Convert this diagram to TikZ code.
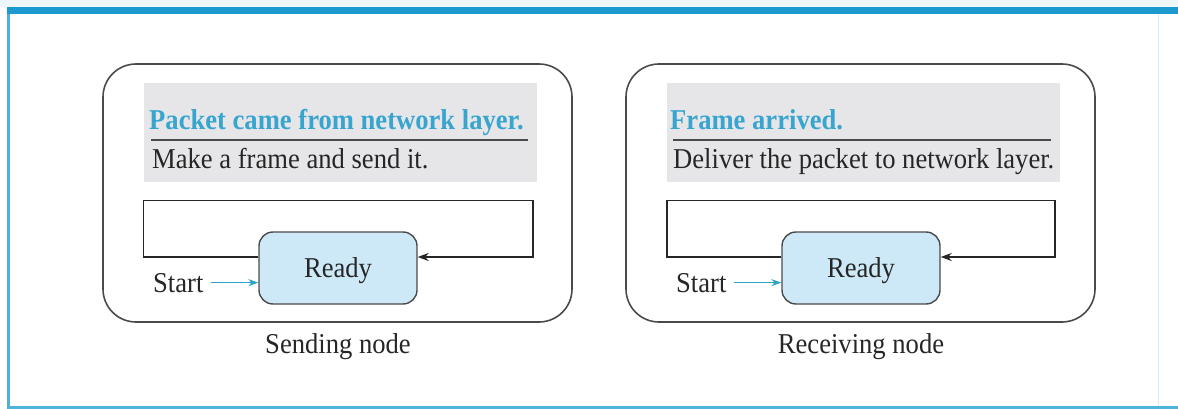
\documentclass[tikz,border=0pt]{standalone}
\usepackage{fontspec}
\setmainfont{Liberation Serif}
\usetikzlibrary{arrows.meta}

\definecolor{framebar}{HTML}{1C9AD0}
\definecolor{frameline}{HTML}{4FB3D9}
\definecolor{titlecyan}{HTML}{38A5CF}
\definecolor{panelgray}{HTML}{E6E6E9}
\definecolor{readyfill}{HTML}{CDE9F7}
\definecolor{inkdark}{HTML}{262626}
\definecolor{boxline}{HTML}{4A4A4A}
\definecolor{startcyan}{HTML}{2BA4C6}

% slightly condensed lettering: same width, a little taller
\newcommand{\tallset}[1]{\scalebox{1}[1.08]{#1}}

\tikzset{
  txt/.style={font=\fontsize{26.6}{30}\selectfont, text=inkdark, inner sep=0pt},
  titletxt/.style={txt, font=\fontsize{26.6}{30}\selectfont\bfseries, text=titlecyan, anchor=base west},
  bodytxt/.style={txt, anchor=base west},
  outerbox/.style={draw=boxline, line width=1.6pt, rounded corners=33pt,
    minimum width=469pt, minimum height=258pt, inner sep=0pt},
  panel/.style={fill=panelgray, minimum width=393.5pt, minimum height=99pt, inner sep=0pt},
  rulerline/.style={draw=boxline, line width=1.4pt},
  statebox/.style={txt, draw=boxline, line width=1.4pt, fill=readyfill, rounded corners=14pt,
    minimum width=158pt, minimum height=72pt, text depth=0pt, text height=19.6pt},
  loopline/.style={draw=inkdark, line width=1.6pt, -{Stealth[length=11pt,width=8pt]}},
  startarrow/.style={draw=startcyan, line width=1.4pt, -{Stealth[length=10pt,width=7pt]}, shorten <=7pt},
}

\begin{document}
\begin{tikzpicture}[x=1pt, y=-1pt]
  \useasboundingbox (0,0) rectangle (1178,409);

  % page frame
  \fill[framebar!8] (0,0) rectangle (1178,7);
  \draw[draw=frameline!25, line width=1pt] (1158,14) -- (1158,407);
  \draw[draw=frameline, line width=2.5pt] (1178,407.5) -- (8.5,407.5) -- (8.5,10);
  \fill[framebar] (7,7) rectangle (1178,14);

  % ---------- sending side ----------
  \node[outerbox] (s-box) at (337.5,193) {};
  \node[panel] (s-panel) at (340.25,132.5) {};
  \node[titletxt] (s-title) at (149,130) {\tallset{Packet came from network layer.}};
  \coordinate (s-rl) at (151,140);
  \coordinate (s-rr) at (528,140);
  \draw[rulerline] (s-rl) -- (s-rr);
  \node[bodytxt] (s-action) at (152,168) {\tallset{Make a frame and send it.}};

  \node[statebox] (s-ready) at (338,268) {\tallset{Ready}};
  \coordinate (s-l1) at (143.5,257);
  \coordinate (s-l2) at (143.5,200.5);
  \coordinate (s-l3) at (533,200.5);
  \coordinate (s-l4) at (533,257);
  \draw[loopline] (s-ready.west |- s-l1) -- (s-l1) -- (s-l2) -- (s-l3) -- (s-l4) -- (s-ready.east |- s-l4);

  \node[bodytxt] (s-start) at (153,292) {\tallset{Start}};
  \draw[startarrow] (s-start.east) -- (s-ready.west |- s-start.east);

  \node[txt, anchor=base] (s-label) at (338,353) {\tallset{Sending node}};

  % ---------- receiving side ----------
  \node[outerbox] (r-box) at (860.5,193) {};
  \node[panel] (r-panel) at (863.25,132.5) {};
  \node[titletxt] (r-title) at (670,130) {\tallset{Frame arrived.}};
  \coordinate (r-rl) at (673,140);
  \coordinate (r-rr) at (1051,140);
  \draw[rulerline] (r-rl) -- (r-rr);
  \node[bodytxt] (r-action) at (673,168) {\tallset{Deliver the packet to network layer.}};

  \node[statebox] (r-ready) at (861,268) {\tallset{Ready}};
  \coordinate (r-l1) at (667,257);
  \coordinate (r-l2) at (667,200.5);
  \coordinate (r-l3) at (1055,200.5);
  \coordinate (r-l4) at (1055,257);
  \draw[loopline] (r-ready.west |- r-l1) -- (r-l1) -- (r-l2) -- (r-l3) -- (r-l4) -- (r-ready.east |- r-l4);

  \node[bodytxt] (r-start) at (676,292) {\tallset{Start}};
  \draw[startarrow] (r-start.east) -- (r-ready.west |- r-start.east);

  \node[txt, anchor=base] (r-label) at (861,353) {\tallset{Receiving node}};
\end{tikzpicture}
\end{document}
